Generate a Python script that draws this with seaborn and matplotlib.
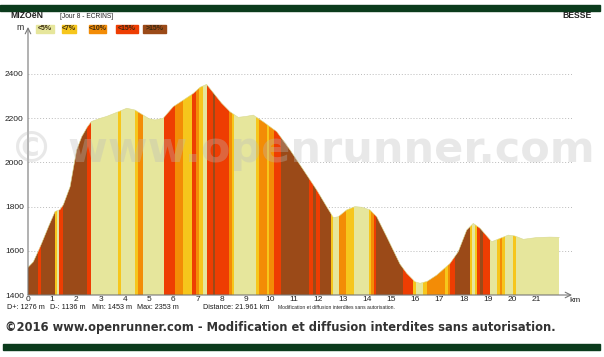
import numpy as np
import pandas as pd
import matplotlib
matplotlib.use("Agg")
import matplotlib.pyplot as plt
import seaborn as sns

# profile (km, m)
km = [0.0, 0.22, 0.43, 0.57, 0.85, 1.12, 1.32, 1.46, 1.74, 2.01, 2.22, 2.45, 2.62, 3.0,
      3.25, 3.73, 4.08, 4.42, 4.76, 5.0, 5.25, 5.59, 6.0, 6.42, 6.83, 7.11, 7.38, 7.73,
      8.0, 8.35, 8.69, 9.0, 9.31, 9.72, 10.28, 10.83, 11.38, 11.93, 12.34, 12.62, 12.82,
      13.17, 13.51, 13.8, 14.13, 14.41, 14.82, 15.37, 15.65, 15.99, 16.2, 16.5, 16.89,
      17.44, 17.78, 18.13, 18.4, 18.68, 19.16, 19.5, 19.85, 20.12, 20.47, 21.02, 21.57, 21.961]
elev = [1525, 1550, 1600, 1635, 1710, 1778, 1786, 1808, 1890, 2056, 2116, 2160, 2185, 2200,
        2208, 2229, 2245, 2237, 2214, 2198, 2192, 2200, 2252, 2282, 2312, 2340, 2353, 2305,
        2268, 2229, 2204, 2208, 2214, 2184, 2139, 2056, 1966, 1875, 1800, 1750, 1754,
        1785, 1800, 1797, 1785, 1754, 1664, 1540, 1498, 1460, 1453, 1462, 1490,
        1543, 1596, 1694, 1724, 1702, 1641, 1656, 1671, 1667, 1652, 1660, 1662, 1661]

# slope classes along the route (start km of each band)
band_start = [0.00, 0.40, 0.52, 1.12, 1.20, 1.28, 1.43, 2.45, 2.62, 3.70, 3.84, 4.42, 4.55,
              4.74, 5.64, 6.07, 6.42, 6.76, 6.94, 7.07, 7.22, 7.41, 7.63, 7.74, 8.32, 8.41,
              8.51, 9.44, 9.56, 9.86, 9.97, 10.17, 10.47, 11.63, 11.76, 11.91, 12.05, 12.50,
              12.60, 12.85, 13.16, 13.47, 14.11, 14.19, 14.28, 14.38, 15.51, 15.92, 16.03,
              16.33, 16.48, 17.23, 17.37, 17.44, 17.64, 18.26, 18.33, 18.47, 18.54, 18.68,
              18.81, 19.09, 19.37, 19.50, 19.59, 19.71, 20.06, 20.17]
band_class = [4, 3, 4, 1, 0, 3, 4, 3, 0, 1, 0, 1, 2,
              0, 3, 2, 1, 3, 2, 1, 0, 3, 4, 3, 2, 1,
              0, 1, 2, 1, 2, 3, 4, 3, 4, 3, 4, 1,
              0, 2, 1, 0, 1, 2, 3, 4, 3, 1, 0,
              1, 2, 1, 2, 3, 4, 1, 0, 1, 3, 4,
              3, 0, 1, 2, 1, 0, 1, 0]
distance = 21.961

legend_labels = ["<5%", "<7%", "<10%", "<15%", ">15%"]
colors = ["#e6e69c", "#f6c61c", "#f38c06", "#ee3d02", "#9b4a18"]
yticks = [1400, 1600, 1800, 2000, 2200, 2400]
xticks = list(range(22))

W, H = 604, 357
sns.set_style("white")
plt.rcParams["font.family"] = ["Liberation Sans", "DejaVu Sans"]

fig = plt.figure(figsize=(W / 100, H / 100), dpi=100)
ax = fig.add_axes([28 / W, 1 - 295 / H, 544 / W, 268 / H])
ax.set_xlim(0, 544 / 24.2)
ax.set_ylim(1400, 1400 + 268 / 0.221)

df = pd.DataFrame({"km": km, "elev": elev})

# profile polygon used as a clip for the slope bands
poly = ax.fill_between(df["km"], df["elev"], 1400, color="none", lw=0)
clip = poly.get_paths()[0]
ends = band_start[1:] + [distance]
for s, e, c in zip(band_start, ends, band_class):
    sp = ax.axvspan(s, e, color=colors[c], lw=0, zorder=2)
    sp.set_clip_path(clip, ax.transData)
sns.lineplot(data=df, x="km", y="elev", ax=ax, color="#d9d98f", lw=0.4, zorder=3)

for y in yticks[1:]:
    ax.axhline(y, color="#bbbbbb", lw=0.7, ls=(0, (1, 2)), zorder=1)

for sp_name in ax.spines:
    ax.spines[sp_name].set_visible(False)
ax.annotate("", xy=(1.0, 0), xytext=(0, 0), xycoords="axes fraction",
            arrowprops=dict(arrowstyle="->", color="#777777", lw=0.8, shrinkA=0, shrinkB=0),
            zorder=5)
ax.annotate("", xy=(0, 1.0), xytext=(0, 0), xycoords="axes fraction",
            arrowprops=dict(arrowstyle="->", color="#777777", lw=0.8, shrinkA=0, shrinkB=0),
            zorder=5)

ax.set_xticks(xticks)
ax.set_xticklabels([str(t) for t in xticks])
ax.set_yticks(yticks)
ax.set_yticklabels([str(t) for t in yticks])
ax.tick_params(axis="both", length=0, labelsize=6, colors="#222222")
ax.tick_params(axis="x", pad=0.5)
ax.tick_params(axis="y", pad=3)
ax.set_xlabel("")
ax.set_ylabel("")
ax.grid(False)


def fx(x):
    return x / W


def fy(y):
    return 1 - y / H


# top and bottom bars
fig.patches.append(plt.Rectangle((fx(0), fy(11)), 600 / W, 6 / H, transform=fig.transFigure,
                                 color="#0b3b1c", zorder=0))
fig.patches.append(plt.Rectangle((fx(3), fy(350)), 597 / W, 6 / H, transform=fig.transFigure,
                                 color="#0b3b1c", zorder=0))

fig.text(fx(10), fy(16), "MIZOëN", fontsize=6.2, fontweight="bold", va="center", color="#222222")
fig.text(fx(60), fy(16), "[Jour 8 - ECRINS]", fontsize=4.8, va="center", color="#222222")
fig.text(fx(592), fy(16), "BESSE", fontsize=6.2, fontweight="bold", va="center", ha="right",
         color="#222222")
fig.text(fx(24), fy(28), "m", fontsize=6.2, va="center", ha="right", color="#222222")
fig.text(fx(575), fy(300), "km", fontsize=6, va="center", ha="center", color="#222222")

# slope legend
box_x = [36, 62, 89, 116, 143]
box_w = [18, 14, 17, 22, 23]
for lab, c, bx, bw in zip(legend_labels, colors, box_x, box_w):
    fig.patches.append(plt.Rectangle((fx(bx), fy(33)), bw / W, 8 / H, transform=fig.transFigure,
                                     color=c, zorder=1))
    fig.text(fx(bx + bw / 2), fy(29), lab, fontsize=5.0, fontweight="bold", ha="center",
             va="center", color="#3a2a10")

# stats
stats = [(7, "D+: 1276 m"), (50, "D-: 1136 m"), (92, "Min: 1453 m"), (137, "Max: 2353 m"),
         (203, "Distance: 21.961 km")]
for x, t in stats:
    fig.text(fx(x), fy(307.5), t, fontsize=5.2, va="center", color="#1a1a1a")
fig.text(fx(278), fy(307.5), "Modification et diffusion interdites sans autorisation.",
         fontsize=3.6, va="center", color="#222222")

fig.text(fx(5), fy(328), "©2016 www.openrunner.com - Modification et diffusion interdites sans autorisation.",
         fontsize=8.3, fontweight="bold", family="DejaVu Sans", va="center", color="#333333")

# watermark
fig.text(fx(302), fy(150), "© www.openrunner.com", fontsize=31, fontweight="bold",
         family="DejaVu Sans", ha="center", va="center", color="#bbbbbb", alpha=0.33, zorder=10)

fig.savefig("out.png", dpi=100)
